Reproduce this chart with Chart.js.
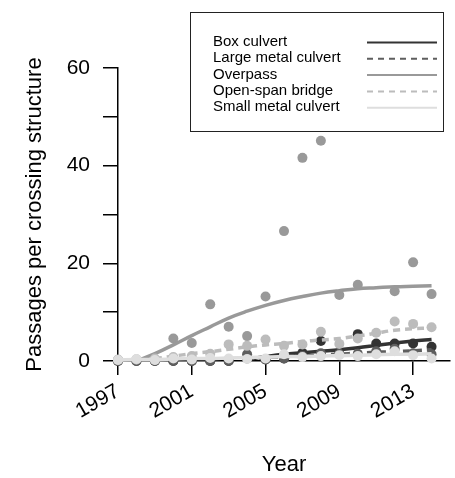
<!DOCTYPE html>
<html>
<head>
<meta charset="utf-8">
<script src="https://cdn.jsdelivr.net/npm/chart.js@4.4.1/dist/chart.umd.min.js"></script>
<style>
  html, body { margin: 0; padding: 0; background: #fff; }
</style>
</head>
<body>
<canvas id="passChart" width="455" height="478"></canvas>
<script>
// data
const years = [1997, 1998, 1999, 2000, 2001, 2002, 2003, 2004, 2005, 2006, 2007, 2008, 2009, 2010, 2011, 2012, 2013, 2014];
const xTicks = [1997, 2001, 2005, 2009, 2013];

const seriesNames = ["Box culvert", "Large metal culvert", "Overpass", "Open-span bridge", "Small metal culvert"];
const seriesColors = ["#333333", "#5e5e5e", "#999999", "#bcbcbc", "#dedede"];
const seriesDash = [[], [7, 5], [], [7, 5], []];

const boxObs   = [0, 0, 0, 0, 0, 0, 0, 0.5, 0.3, 0.5, 1.7, 4.1, 1.5, 5.5, 3.6, 3.6, 3.6, 2.9];
const boxFit   = [null, null, null, null, null, null, null, 0.3, 0.9, 1.4, 1.7, 2.0, 2.3, 2.7, 3.2, 3.7, 4.1, 4.4];
const largeObs = [0, 0, 0, 0, 0, 0, 0, 1.4, 0.3, 0.5, 1.0, 1.6, 1.5, 1.5, 2.0, 2.5, 1.6, 1.4];
const largeFit = [null, null, null, null, null, null, null, 0.5, 0.7, 0.9, 1.0, 1.2, 1.4, 1.6, 1.8, 1.9, 2.1, 2.3];
const overObs  = [0.2, 0.3, 0.2, 4.6, 3.7, 11.6, 7.0, 5.1, 13.2, 26.6, 41.6, 45.1, 13.5, 15.6, null, 14.3, 20.2, 13.7];
const overFit  = [null, 0, 1.5, 3.3, 5.2, 7.0, 8.8, 10.2, 11.4, 12.4, 13.2, 13.9, 14.4, 14.8, 15.0, 15.2, 15.3, 15.4];
const openObs  = [0.3, 0.3, 0.5, 0.8, 1.0, 1.5, 3.4, 3.1, 4.4, 3.1, 3.4, 6.0, 3.5, 4.6, 5.8, 8.1, 7.6, 6.9];
const openFit  = [null, null, 0.5, 1.0, 1.5, 1.9, 2.4, 2.9, 3.3, 3.6, 4.0, 4.3, 4.6, 5.1, 5.7, 6.3, 6.6, 6.8];
const smallObs = [0.2, 0.4, 0.2, 0.5, 0.3, 0.6, 0.5, 0.4, 0.5, 1.4, 0.8, 1.0, 1.2, 1.0, 1.4, 2.0, 1.2, 0.5];
const smallFit = [0.2, 0.3, 0.3, 0.4, 0.5, 0.5, 0.6, 0.7, 0.8, 0.9, 0.9, 1.0, 1.1, 1.2, 1.3, 1.4, 1.4, 1.5];

const obsList = [boxObs, largeObs, overObs, openObs, smallObs];
const fitList = [boxFit, largeFit, overFit, openFit, smallFit];

const FONT = '"Liberation Sans", Arial, Helvetica, sans-serif';

function toPoints(arr) {
    return years.map((yr, i) => ({ x: yr, y: arr[i] })).filter(p => p.y !== null);
}

const datasets = [];
seriesNames.forEach((name, i) => {
    datasets.push({
        label: name + " (observed)",
        data: toPoints(obsList[i]),
        showLine: false,
        pointRadius: 5,
        pointBorderWidth: 0,
        pointBackgroundColor: seriesColors[i],
        backgroundColor: seriesColors[i],
        order: 20 - i * 2,
        clip: false,
    });
    datasets.push({
        label: name,
        data: toPoints(fitList[i]),
        showLine: true,
        pointRadius: 0,
        borderColor: seriesColors[i],
        borderWidth: 3.5,
        borderDash: seriesDash[i],
        tension: 0.4,
        order: 19 - i * 2,
        clip: false,
    });
});

const legendBox = {
    id: "legendBox",
    afterDraw(chart) {
        const ctx = chart.ctx;
        ctx.save();
        ctx.fillStyle = "#fff";
        ctx.fillRect(190, 12, 253, 119);
        ctx.strokeStyle = "#222";
        ctx.lineWidth = 1;
        ctx.strokeRect(190.5, 12.5, 253, 119);
        ctx.font = "15px " + FONT;
        ctx.textBaseline = "middle";
        ctx.textAlign = "left";
        seriesNames.forEach((name, i) => {
            const y = 42 + i * 16.3;
            ctx.fillStyle = "#000";
            ctx.fillText(name, 213, y);
            ctx.strokeStyle = seriesColors[i];
            ctx.lineWidth = 2;
            ctx.setLineDash(seriesDash[i].length ? [6, 5] : []);
            ctx.beginPath();
            ctx.moveTo(367, y + 0.5);
            ctx.lineTo(437, y + 0.5);
            ctx.stroke();
        });
        ctx.restore();
    }
};

new Chart(document.getElementById("passChart").getContext("2d"), {
    type: "scatter",
    data: { datasets: datasets },
    options: {
        responsive: false,
        animation: false,
        devicePixelRatio: 1,
        layout: { padding: { top: 68, right: 3, left: 0, bottom: 0 } },
        plugins: {
            legend: { display: false },
            tooltip: { enabled: false },
        },
        scales: {
            x: {
                type: "linear",
                min: 1997,
                max: 2015,
                afterBuildTicks: (s) => { s.ticks = xTicks.map(v => ({ value: v })); },
                afterFit: (s) => { s.height = 117; },
                ticks: {
                    callback: (v) => String(v),
                    minRotation: 30,
                    maxRotation: 30,
                    padding: 4,
                    color: "#000",
                    font: { family: FONT, size: 21 },
                },
                grid: { drawOnChartArea: false, drawTicks: true, tickLength: 14, color: "#000", lineWidth: 1.5 },
                border: { color: "#000", width: 1.5 },
                title: {
                    display: true,
                    text: "Year",
                    color: "#000",
                    font: { family: FONT, size: 22 },
                    padding: { top: 0, bottom: 0 },
                },
            },
            y: {
                min: 0,
                max: 60,
                afterFit: (s) => { s.width = 118; },
                ticks: {
                    stepSize: 10,
                    callback: (v) => (v % 20 === 0 ? String(v) : ""),
                    padding: 13,
                    color: "#000",
                    font: { family: FONT, size: 21 },
                },
                grid: { drawOnChartArea: false, drawTicks: true, tickLength: 15, color: "#000", lineWidth: 1.5 },
                border: { color: "#000", width: 1.5 },
                title: {
                    display: true,
                    text: "Passages per crossing structure",
                    color: "#000",
                    font: { family: FONT, size: 22 },
                    padding: { top: 22, bottom: 0 },
                },
            },
        },
    },
    plugins: [legendBox],
});
</script>
</body>
</html>
